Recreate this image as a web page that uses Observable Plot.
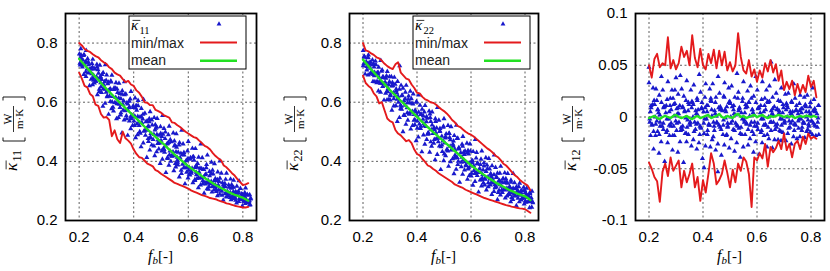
<!DOCTYPE html>
<html><head><meta charset="utf-8">
<script src="https://cdn.jsdelivr.net/npm/d3@7"></script>
<script src="https://cdn.jsdelivr.net/npm/@observablehq/plot@0.6"></script>
<style>
body{margin:0;background:#fff;}
#wrap{position:relative;width:830px;height:271px;overflow:hidden;background:#fff;}
#wrap svg{position:absolute;top:0;}
</style></head><body><div id="wrap"></div>
<script>
// ---------- data ----------
const fb = [0.20,0.21,0.22,0.23,0.24,0.25,0.26,0.27,0.28,0.29,0.30,0.31,0.32,0.33,0.34,0.35,0.36,0.37,0.38,0.39,0.40,0.41,0.42,0.43,0.44,0.45,0.46,0.47,0.48,0.49,0.50,0.51,0.52,0.53,0.54,0.55,0.56,0.57,0.58,0.59,0.60,0.61,0.62,0.63,0.64,0.65,0.66,0.67,0.68,0.69,0.70,0.71,0.72,0.73,0.74,0.75,0.76,0.77,0.78,0.79,0.80,0.81,0.82];
const xTicks = [0.2,0.4,0.6,0.8];

const k11Max = [.800,.792,.780,.774,.770,.762,.756,.752,.742,.735,.730,.718,.712,.700,.694,.690,.678,.668,.672,.660,.655,.640,.632,.618,.600,.598,.590,.590,.574,.570,.565,.556,.552,.548,.532,.530,.522,.516,.508,.500,.494,.488,.482,.479,.470,.462,.452,.448,.440,.428,.418,.410,.404,.386,.380,.370,.360,.352,.340,.330,.320,.322,.326];
const k11Min = [.700,.680,.655,.650,.628,.620,.592,.588,.560,.548,.550,.540,.485,.505,.475,.462,.500,.478,.470,.460,.440,.425,.414,.412,.402,.392,.388,.383,.370,.366,.358,.352,.346,.340,.334,.327,.324,.320,.316,.312,.308,.302,.298,.294,.290,.286,.283,.280,.276,.274,.272,.268,.265,.262,.258,.256,.253,.250,.248,.246,.244,.244,.246];
const k11Mean = [.747,.736,.726,.715,.705,.695,.686,.675,.665,.655,.645,.636,.626,.616,.607,.598,.589,.580,.571,.562,.553,.545,.535,.526,.517,.508,.500,.491,.483,.474,.466,.458,.449,.440,.432,.423,.415,.407,.399,.391,.384,.377,.370,.364,.357,.350,.344,.338,.332,.326,.320,.315,.310,.305,.300,.295,.291,.287,.284,.280,.277,.272,.267];

const k22Max = [.800,.775,.772,.765,.760,.752,.748,.740,.730,.722,.716,.712,.728,.735,.700,.690,.680,.676,.660,.648,.632,.630,.618,.610,.606,.600,.598,.592,.584,.576,.570,.562,.552,.540,.532,.520,.516,.508,.500,.494,.490,.484,.476,.468,.460,.452,.444,.438,.430,.420,.414,.404,.392,.386,.376,.365,.355,.348,.338,.330,.324,.318,.302];
const k22Min = [.690,.665,.655,.648,.630,.620,.596,.600,.572,.545,.536,.532,.506,.494,.488,.478,.468,.472,.462,.440,.425,.420,.408,.398,.386,.382,.374,.368,.360,.354,.348,.342,.336,.330,.322,.318,.314,.310,.304,.300,.296,.292,.288,.284,.280,.276,.273,.270,.267,.264,.261,.258,.255,.252,.250,.247,.245,.243,.241,.240,.238,.232,.226];
const k22Mean = [.744,.733,.722,.711,.701,.691,.681,.671,.661,.651,.641,.632,.623,.614,.605,.596,.587,.578,.569,.560,.551,.542,.533,.524,.516,.507,.499,.491,.483,.475,.467,.459,.451,.443,.435,.427,.419,.411,.403,.395,.387,.380,.373,.366,.359,.353,.347,.341,.335,.329,.324,.319,.314,.309,.304,.300,.296,.292,.288,.285,.282,.276,.269];

const k12Max = [.050,.038,.056,.061,.048,.052,.050,.077,.047,.055,.046,.052,.068,.058,.064,.050,.079,.057,.048,.066,.050,.046,.061,.052,.065,.047,.064,.050,.063,.045,.053,.044,.050,.081,.058,.045,.042,.055,.039,.046,.034,.045,.038,.052,.044,.055,.043,.051,.035,.045,.026,.034,.027,.035,.021,.032,.023,.031,.024,.040,.029,.035,.019];
const k12Min = [-.044,-.050,-.058,-.062,-.082,-.053,-.045,-.057,-.039,-.052,-.047,-.042,-.068,-.052,-.063,-.055,-.045,-.068,-.058,-.081,-.061,-.073,-.055,-.035,-.045,-.065,-.061,-.055,-.042,-.054,-.068,-.051,-.063,-.045,-.052,-.039,-.043,-.055,-.087,-.039,-.042,-.035,-.040,-.026,-.048,-.029,-.034,-.030,-.023,-.031,-.016,-.032,-.026,-.039,-.026,-.023,-.031,-.019,-.026,-.016,-.021,-.019,-.021];
const k12Mean = [-.001,.000,.001,-.001,-.002,.000,.001,.000,-.001,.001,.002,.000,-.001,.000,.001,-.001,-.002,.000,.001,-.001,.000,.001,.002,-.001,.000,.001,.003,.000,-.001,.001,.000,-.001,.002,.003,.000,.001,-.001,.000,.001,.002,.000,.001,.002,.000,-.001,.001,.000,.001,.002,.001,.000,.001,.000,.001,-.001,.000,.001,.000,.001,.001,.000,.001,.000];

const k11Pts = [[.201,.763],[.204,.726],[.206,.781],[.209,.742],[.205,.751],[.212,.719],[.213,.744],[.217,.694],[.218,.761],[.210,.729],[.220,.729],[.225,.687],[.226,.775],[.229,.712],[.223,.736],[.231,.747],[.233,.699],[.235,.727],[.238,.656],[.237,.712],[.242,.712],[.244,.678],[.247,.731],[.249,.659],[.245,.713],[.250,.745],[.253,.691],[.256,.665],[.258,.712],[.251,.681],[.261,.671],[.265,.728],[.267,.625],[.269,.710],[.264,.685],[.271,.698],[.274,.636],[.276,.725],[.279,.666],[.275,.681],[.282,.633],[.283,.677],[.287,.586],[.288,.700],[.280,.652],[.290,.659],[.295,.596],[.296,.727],[.299,.634],[.293,.669],[.301,.692],[.303,.621],[.305,.662],[.308,.559],[.307,.640],[.312,.643],[.314,.602],[.317,.668],[.319,.578],[.315,.645],[.320,.691],[.323,.619],[.326,.570],[.328,.648],[.321,.601],[.331,.599],[.335,.666],[.337,.544],[.339,.645],[.334,.616],[.341,.633],[.344,.548],[.346,.664],[.349,.594],[.345,.614],[.352,.557],[.353,.612],[.357,.496],[.358,.639],[.350,.582],[.360,.593],[.365,.540],[.366,.669],[.369,.571],[.363,.605],[.371,.628],[.373,.554],[.375,.598],[.378,.488],[.377,.575],[.382,.581],[.384,.536],[.387,.611],[.389,.510],[.385,.583],[.390,.636],[.393,.557],[.396,.521],[.398,.587],[.391,.544],[.401,.536],[.405,.614],[.407,.480],[.409,.589],[.404,.553],[.411,.573],[.414,.490],[.416,.606],[.419,.532],[.415,.552],[.422,.500],[.423,.550],[.427,.449],[.428,.579],[.420,.521],[.430,.531],[.435,.462],[.436,.609],[.439,.503],[.433,.543],[.441,.563],[.443,.488],[.445,.534],[.448,.413],[.447,.511],[.452,.517],[.454,.467],[.457,.544],[.459,.438],[.455,.519],[.460,.568],[.463,.494],[.466,.455],[.468,.523],[.461,.480],[.471,.474],[.475,.548],[.477,.419],[.479,.524],[.474,.491],[.481,.512],[.484,.432],[.486,.545],[.489,.472],[.485,.491],[.492,.442],[.493,.488],[.497,.393],[.498,.517],[.490,.461],[.500,.471],[.505,.407],[.506,.555],[.509,.444],[.503,.484],[.511,.511],[.513,.431],[.515,.477],[.518,.362],[.517,.452],[.522,.459],[.524,.413],[.527,.490],[.529,.387],[.525,.461],[.530,.519],[.533,.435],[.536,.400],[.538,.466],[.531,.422],[.541,.417],[.545,.496],[.547,.368],[.549,.469],[.544,.432],[.551,.455],[.554,.381],[.556,.493],[.559,.414],[.555,.432],[.562,.388],[.563,.431],[.567,.347],[.568,.463],[.560,.404],[.570,.412],[.575,.359],[.576,.505],[.579,.390],[.573,.427],[.581,.459],[.583,.378],[.585,.421],[.588,.324],[.587,.395],[.592,.402],[.594,.363],[.597,.435],[.599,.344],[.595,.404],[.600,.467],[.603,.380],[.606,.354],[.608,.412],[.601,.370],[.611,.366],[.615,.444],[.617,.328],[.619,.416],[.614,.377],[.621,.404],[.624,.338],[.626,.443],[.629,.363],[.625,.379],[.632,.342],[.633,.380],[.637,.311],[.638,.414],[.630,.355],[.640,.363],[.645,.320],[.646,.459],[.649,.344],[.643,.377],[.651,.412],[.653,.334],[.655,.372],[.658,.292],[.657,.347],[.662,.355],[.664,.323],[.667,.389],[.669,.307],[.665,.357],[.670,.421],[.673,.335],[.676,.315],[.678,.366],[.671,.328],[.681,.324],[.685,.397],[.687,.296],[.689,.370],[.684,.332],[.691,.357],[.694,.303],[.696,.392],[.699,.321],[.695,.334],[.702,.306],[.703,.335],[.707,.284],[.708,.364],[.700,.314],[.710,.320],[.715,.289],[.716,.401],[.719,.306],[.713,.332],[.721,.360],[.723,.299],[.725,.328],[.728,.269],[.727,.308],[.732,.314],[.734,.290],[.737,.339],[.739,.279],[.735,.315],[.740,.360],[.743,.298],[.746,.283],[.748,.320],[.741,.292],[.751,.289],[.755,.340],[.757,.270],[.759,.321],[.754,.295],[.761,.312],[.764,.274],[.766,.336],[.769,.287],[.765,.297],[.772,.276],[.773,.297],[.777,.259],[.778,.316],[.770,.283],[.780,.287],[.785,.264],[.786,.334],[.789,.277],[.783,.294],[.791,.308],[.793,.271],[.795,.290],[.798,.249],[.797,.278],[.802,.281],[.804,.265],[.807,.294],[.809,.257],[.805,.282],[.810,.310],[.813,.271],[.816,.261],[.818,.285],[.811,.267],[.821,.264],[.825,.287],[.827,.253],[.829,.275],[.824,.267]];
const k11Core = [[.207,.760],[.203,.732],[.216,.758],[.211,.726],[.228,.735],[.224,.702],[.234,.735],[.238,.701],[.249,.719],[.246,.696],[.257,.713],[.253,.674],[.266,.719],[.261,.671],[.278,.687],[.274,.644],[.284,.694],[.288,.645],[.299,.674],[.296,.644],[.307,.668],[.303,.618],[.316,.672],[.311,.620],[.328,.643],[.324,.583],[.334,.647],[.338,.595],[.349,.629],[.346,.594],[.357,.627],[.353,.564],[.366,.625],[.361,.573],[.378,.594],[.374,.544],[.384,.603],[.388,.549],[.399,.582],[.396,.550],[.407,.580],[.403,.521],[.416,.588],[.411,.526],[.428,.551],[.424,.495],[.434,.559],[.438,.503],[.449,.537],[.446,.505],[.457,.534],[.453,.477],[.466,.540],[.461,.482],[.478,.506],[.474,.452],[.484,.516],[.488,.460],[.499,.494],[.496,.462],[.507,.492],[.503,.435],[.516,.499],[.511,.440],[.528,.464],[.524,.410],[.534,.473],[.538,.418],[.549,.452],[.546,.420],[.557,.448],[.553,.393],[.566,.455],[.561,.397],[.578,.422],[.574,.370],[.584,.430],[.588,.378],[.599,.410],[.596,.380],[.607,.407],[.603,.356],[.616,.414],[.611,.360],[.628,.384],[.624,.335],[.634,.393],[.638,.344],[.649,.375],[.646,.346],[.657,.372],[.653,.324],[.666,.378],[.661,.329],[.678,.351],[.674,.306],[.684,.358],[.688,.314],[.699,.341],[.696,.317],[.707,.338],[.703,.298],[.716,.343],[.711,.302],[.728,.320],[.724,.285],[.734,.325],[.738,.291],[.749,.312],[.746,.293],[.757,.309],[.753,.278],[.766,.312],[.761,.281],[.778,.295],[.774,.268],[.784,.299],[.788,.274],[.799,.288],[.796,.275],[.807,.287],[.803,.266],[.816,.288],[.811,.265],[.828,.273],[.824,.252]];

const k22Pts = [[.201,.775],[.203,.730],[.205,.755],[.208,.695],[.204,.754],[.212,.737],[.214,.709],[.217,.750],[.219,.692],[.216,.730],[.220,.760],[.223,.719],[.226,.695],[.228,.735],[.225,.728],[.231,.702],[.235,.743],[.237,.670],[.239,.730],[.232,.700],[.241,.719],[.244,.669],[.246,.739],[.249,.694],[.243,.701],[.252,.670],[.253,.700],[.257,.638],[.258,.718],[.255,.696],[.260,.684],[.265,.634],[.266,.741],[.269,.664],[.261,.671],[.271,.709],[.273,.653],[.275,.685],[.278,.607],[.274,.683],[.282,.668],[.284,.630],[.287,.689],[.289,.608],[.286,.657],[.290,.704],[.293,.646],[.296,.609],[.298,.669],[.295,.660],[.301,.625],[.305,.686],[.307,.573],[.309,.667],[.302,.622],[.311,.656],[.314,.587],[.316,.684],[.319,.622],[.313,.632],[.322,.588],[.323,.639],[.327,.535],[.328,.670],[.325,.631],[.330,.620],[.335,.548],[.336,.723],[.339,.590],[.331,.600],[.341,.657],[.343,.576],[.345,.624],[.348,.500],[.344,.622],[.352,.605],[.354,.555],[.357,.634],[.359,.525],[.356,.590],[.360,.657],[.363,.581],[.366,.539],[.368,.610],[.365,.598],[.371,.562],[.375,.637],[.377,.509],[.379,.612],[.372,.559],[.381,.596],[.384,.521],[.386,.628],[.389,.558],[.383,.569],[.392,.524],[.393,.573],[.397,.470],[.398,.600],[.395,.567],[.400,.555],[.405,.482],[.406,.624],[.409,.526],[.401,.536],[.411,.590],[.413,.511],[.415,.560],[.418,.432],[.414,.558],[.422,.542],[.424,.489],[.427,.567],[.429,.458],[.426,.527],[.430,.589],[.433,.518],[.436,.474],[.438,.546],[.435,.534],[.441,.496],[.445,.570],[.447,.431],[.449,.548],[.442,.493],[.451,.535],[.454,.451],[.456,.567],[.459,.494],[.453,.507],[.462,.461],[.463,.514],[.467,.405],[.468,.544],[.465,.507],[.470,.496],[.475,.423],[.476,.582],[.479,.466],[.471,.476],[.481,.539],[.483,.452],[.485,.503],[.488,.372],[.484,.501],[.492,.485],[.494,.433],[.497,.515],[.499,.402],[.496,.469],[.500,.544],[.503,.462],[.506,.419],[.508,.493],[.505,.479],[.511,.441],[.515,.521],[.517,.383],[.519,.495],[.512,.438],[.521,.481],[.524,.399],[.526,.517],[.529,.439],[.523,.451],[.532,.409],[.533,.458],[.537,.358],[.538,.487],[.535,.451],[.540,.440],[.545,.373],[.546,.522],[.549,.412],[.541,.421],[.551,.478],[.553,.400],[.555,.446],[.558,.329],[.554,.444],[.562,.429],[.564,.382],[.567,.458],[.569,.356],[.566,.414],[.570,.484],[.573,.406],[.576,.371],[.578,.435],[.575,.423],[.581,.388],[.585,.461],[.587,.339],[.589,.437],[.582,.385],[.591,.425],[.594,.352],[.596,.459],[.599,.385],[.593,.395],[.602,.360],[.603,.402],[.607,.319],[.608,.433],[.605,.395],[.610,.385],[.615,.332],[.616,.474],[.619,.362],[.611,.369],[.621,.430],[.623,.352],[.625,.394],[.628,.296],[.624,.392],[.632,.376],[.634,.337],[.637,.407],[.639,.317],[.636,.362],[.640,.435],[.643,.355],[.646,.327],[.648,.384],[.645,.371],[.651,.341],[.655,.412],[.657,.303],[.659,.388],[.652,.339],[.661,.376],[.664,.314],[.666,.410],[.669,.340],[.663,.347],[.672,.320],[.673,.356],[.677,.288],[.678,.385],[.675,.349],[.680,.340],[.685,.298],[.686,.421],[.689,.321],[.681,.327],[.691,.379],[.693,.313],[.695,.347],[.698,.270],[.694,.345],[.702,.333],[.704,.302],[.707,.360],[.709,.286],[.706,.321],[.710,.383],[.713,.316],[.716,.295],[.718,.340],[.715,.329],[.721,.305],[.725,.361],[.727,.276],[.729,.341],[.722,.303],[.731,.332],[.734,.283],[.736,.359],[.739,.303],[.733,.309],[.742,.288],[.743,.315],[.747,.263],[.748,.336],[.745,.310],[.750,.303],[.755,.271],[.756,.359],[.759,.289],[.751,.294],[.761,.328],[.763,.283],[.765,.308],[.768,.250],[.764,.307],[.772,.298],[.774,.275],[.777,.314],[.779,.263],[.776,.290],[.780,.326],[.783,.286],[.786,.269],[.788,.301],[.785,.294],[.791,.278],[.795,.312],[.797,.256],[.799,.301],[.792,.277],[.801,.295],[.804,.262],[.806,.309],[.809,.278],[.803,.282],[.812,.263],[.813,.282],[.817,.243],[.818,.295],[.815,.279],[.820,.271],[.825,.245],[.826,.299],[.829,.260],[.821,.264]];
const k22Core = [[.206,.752],[.201,.723],[.219,.751],[.214,.721],[.223,.734],[.227,.715],[.235,.726],[.239,.694],[.248,.727],[.242,.689],[.256,.701],[.251,.666],[.269,.705],[.264,.664],[.273,.685],[.277,.663],[.285,.681],[.289,.637],[.298,.686],[.292,.635],[.306,.655],[.301,.607],[.319,.661],[.314,.612],[.323,.645],[.327,.610],[.335,.644],[.339,.578],[.348,.647],[.342,.586],[.356,.612],[.351,.556],[.369,.621],[.364,.564],[.373,.598],[.377,.566],[.385,.594],[.389,.539],[.398,.602],[.392,.541],[.406,.566],[.401,.512],[.419,.576],[.414,.519],[.423,.554],[.427,.520],[.435,.551],[.439,.492],[.448,.560],[.442,.496],[.456,.523],[.451,.466],[.469,.535],[.464,.474],[.473,.513],[.477,.478],[.485,.511],[.489,.449],[.498,.519],[.492,.455],[.506,.484],[.501,.425],[.519,.494],[.514,.435],[.523,.473],[.527,.438],[.535,.469],[.539,.411],[.548,.477],[.542,.416],[.556,.442],[.551,.389],[.569,.451],[.564,.397],[.573,.431],[.577,.399],[.585,.428],[.589,.374],[.598,.434],[.592,.378],[.606,.402],[.601,.350],[.619,.411],[.614,.359],[.623,.392],[.627,.362],[.635,.389],[.639,.338],[.648,.395],[.642,.343],[.656,.366],[.651,.320],[.669,.374],[.664,.328],[.673,.358],[.677,.331],[.685,.355],[.689,.311],[.698,.360],[.692,.315],[.706,.335],[.701,.295],[.719,.342],[.714,.303],[.723,.328],[.727,.306],[.735,.326],[.739,.289],[.748,.329],[.742,.293],[.756,.309],[.751,.278],[.769,.314],[.764,.284],[.773,.302],[.777,.286],[.785,.300],[.789,.274],[.798,.303],[.792,.277],[.806,.288],[.801,.266],[.819,.290],[.814,.267],[.823,.277],[.827,.264]];

const k12Pts = [[.200,.033],[.203,-.002],[.206,-.018],[.208,.011],[.205,.005],[.211,-.007],[.215,.028],[.217,-.031],[.219,.016],[.212,-.008],[.221,.012],[.224,-.018],[.226,.027],[.229,-.004],[.223,.000],[.232,-.014],[.233,.007],[.237,-.035],[.238,.021],[.235,.004],[.240,.002],[.245,-.024],[.246,.039],[.249,-.009],[.241,-.005],[.251,.026],[.253,-.012],[.255,.010],[.258,-.043],[.254,.009],[.262,.004],[.264,-.015],[.267,.017],[.269,-.025],[.266,-.002],[.270,.034],[.273,-.002],[.276,-.018],[.278,.011],[.275,.005],[.281,-.009],[.285,.026],[.287,-.032],[.289,.018],[.282,-.006],[.291,.012],[.294,-.018],[.296,.026],[.299,-.004],[.293,.001],[.302,-.013],[.303,.008],[.307,-.034],[.308,.022],[.305,.003],[.310,.003],[.315,-.024],[.316,.040],[.319,-.010],[.311,-.005],[.321,.027],[.323,-.012],[.325,.010],[.328,-.044],[.324,.009],[.332,.005],[.334,-.016],[.337,.016],[.339,-.024],[.336,-.001],[.340,.035],[.343,-.003],[.346,-.017],[.348,.012],[.345,.006],[.351,-.006],[.355,.026],[.357,-.028],[.359,.015],[.352,-.008],[.361,.014],[.364,-.022],[.366,.031],[.369,-.005],[.363,.000],[.372,-.012],[.373,.006],[.377,-.031],[.378,.018],[.375,.003],[.380,.002],[.385,-.025],[.386,.041],[.389,-.009],[.381,-.006],[.391,.024],[.393,-.011],[.395,.009],[.398,-.040],[.394,.008],[.402,.005],[.404,-.016],[.407,.019],[.409,-.028],[.406,-.002],[.410,.032],[.413,-.002],[.416,-.017],[.418,.011],[.415,.005],[.421,-.007],[.425,.027],[.427,-.029],[.429,.016],[.422,-.008],[.431,.015],[.434,-.022],[.436,.032],[.439,-.005],[.433,.001],[.442,-.013],[.443,.006],[.447,-.032],[.448,.019],[.445,.003],[.450,.001],[.455,-.026],[.456,.039],[.459,-.008],[.451,-.005],[.461,.023],[.463,-.010],[.465,.008],[.468,-.037],[.464,.007],[.472,.006],[.474,-.017],[.477,.020],[.479,-.027],[.476,-.003],[.480,.033],[.483,-.001],[.486,-.018],[.488,.010],[.485,.005],[.491,-.006],[.495,.028],[.497,-.030],[.499,.015],[.492,-.009],[.501,.013],[.504,-.021],[.506,.030],[.509,-.004],[.503,.000],[.512,-.012],[.513,.007],[.517,-.033],[.518,.019],[.515,.003],[.520,.002],[.525,-.025],[.526,.042],[.529,-.009],[.521,-.006],[.531,.024],[.533,-.011],[.535,.009],[.538,-.039],[.534,.008],[.542,.004],[.544,-.017],[.547,.018],[.549,-.029],[.546,-.002],[.550,.034],[.553,-.003],[.556,-.017],[.558,.012],[.555,.004],[.561,-.006],[.565,.025],[.567,-.027],[.569,.014],[.562,-.007],[.571,.014],[.574,-.021],[.576,.030],[.579,-.005],[.573,.001],[.582,-.014],[.583,.007],[.587,-.034],[.588,.020],[.585,.004],[.590,.002],[.595,-.024],[.596,.039],[.599,-.009],[.591,-.005],[.601,.026],[.603,-.012],[.605,.009],[.608,-.036],[.604,.008],[.612,.004],[.614,-.015],[.617,.017],[.619,-.025],[.616,-.002],[.620,.034],[.623,-.002],[.626,-.018],[.628,.011],[.625,.005],[.631,-.007],[.635,.026],[.637,-.029],[.639,.015],[.632,-.008],[.641,.014],[.644,-.021],[.646,.030],[.649,-.005],[.643,.000],[.652,-.013],[.653,.006],[.657,-.030],[.658,.019],[.655,.003],[.660,.002],[.665,-.022],[.666,.036],[.669,-.008],[.661,-.005],[.671,.023],[.673,-.010],[.675,.008],[.678,-.022],[.674,.007],[.682,.004],[.684,-.013],[.687,.015],[.689,-.023],[.686,-.002],[.690,.028],[.693,-.002],[.696,-.015],[.698,.009],[.695,.004],[.701,-.005],[.705,.022],[.707,-.023],[.709,.013],[.702,-.006],[.711,.011],[.714,-.016],[.716,.023],[.719,-.004],[.713,.000],[.722,-.010],[.723,.005],[.727,-.026],[.728,.015],[.725,.003],[.730,.002],[.735,-.019],[.736,.032],[.739,-.007],[.731,-.004],[.741,.018],[.743,-.008],[.745,.007],[.748,-.021],[.744,.006],[.752,.003],[.754,-.011],[.757,.013],[.759,-.019],[.756,-.002],[.760,.021],[.763,-.002],[.766,-.013],[.768,.008],[.765,.004],[.771,-.005],[.775,.019],[.777,-.020],[.779,.011],[.772,-.006],[.781,.010],[.784,-.014],[.786,.021],[.789,-.003],[.783,.000],[.792,-.009],[.793,.005],[.797,-.015],[.798,.014],[.795,.002],[.800,.002],[.805,-.017],[.806,.028],[.809,-.006],[.801,-.004],[.811,.017],[.813,-.008],[.815,.006],[.818,-.018],[.814,.005],[.822,.003],[.824,-.010],[.827,.011],[.829,-.017],[.826,-.001],[.200,.048],[.404,-.049],[.652,.053],[.455,-.053],[.300,.038]];
const k12Core = [[.208,.009],[.203,-.005],[.214,.012],[.217,-.014],[.229,.016],[.225,-.007],[.232,.007],[.238,-.017],[.246,.014],[.241,-.009],[.258,.010],[.253,-.006],[.264,.011],[.267,-.013],[.279,.018],[.275,-.008],[.282,.007],[.288,-.018],[.296,.013],[.291,-.009],[.308,.009],[.303,-.006],[.314,.011],[.317,-.013],[.329,.020],[.325,-.009],[.332,.006],[.338,-.016],[.346,.014],[.341,-.010],[.358,.009],[.353,-.005],[.364,.012],[.367,-.014],[.379,.016],[.375,-.007],[.382,.007],[.388,-.017],[.396,.014],[.391,-.010],[.408,.009],[.403,-.006],[.414,.011],[.417,-.013],[.429,.018],[.425,-.008],[.432,.007],[.438,-.019],[.446,.014],[.441,-.009],[.458,.009],[.453,-.006],[.464,.010],[.467,-.012],[.479,.019],[.475,-.008],[.482,.007],[.488,-.017],[.496,.014],[.491,-.010],[.508,.010],[.503,-.006],[.514,.011],[.517,-.013],[.529,.018],[.525,-.008],[.532,.006],[.538,-.016],[.546,.015],[.541,-.010],[.558,.009],[.553,-.005],[.564,.010],[.567,-.012],[.579,.018],[.575,-.008],[.582,.007],[.588,-.017],[.596,.014],[.591,-.009],[.608,.009],[.603,-.006],[.614,.011],[.617,-.013],[.629,.018],[.625,-.008],[.632,.007],[.638,-.017],[.646,.015],[.641,-.010],[.658,.008],[.653,-.005],[.664,.010],[.667,-.012],[.679,.016],[.675,-.007],[.682,.006],[.688,-.014],[.696,.012],[.691,-.008],[.708,.007],[.703,-.004],[.714,.009],[.717,-.011],[.729,.014],[.725,-.006],[.732,.005],[.738,-.013],[.746,.011],[.741,-.007],[.758,.006],[.753,-.004],[.764,.008],[.767,-.010],[.779,.012],[.775,-.006],[.782,.005],[.788,-.012],[.796,.010],[.791,-.007],[.808,.006],[.803,-.004],[.814,.008],[.817,-.009],[.829,.011],[.825,-.005]];

// ---------- style ----------
const RED = "#e41a1c", GREEN = "#22e022", BLUE = "#1818cc";
const SERIF = "'Liberation Serif','DejaVu Serif',serif";
const SANS = "'Liberation Sans',Arial,sans-serif";

function kappa(g, x, y, fs, sub) {
  g.append("text").attr("x", x).attr("y", y).attr("text-anchor", "start").attr("font-family", SERIF)
    .attr("font-style", "italic").attr("font-size", fs).attr("fill", "#000").text("κ");
  g.append("line").attr("x1", x + 0.1 * fs).attr("x2", x + 0.62 * fs)
    .attr("y1", y - 0.64 * fs).attr("y2", y - 0.64 * fs)
    .attr("stroke", "#000").attr("stroke-width", 0.8);
  g.append("text").attr("x", x + 0.56 * fs).attr("y", y + 0.25 * fs).attr("text-anchor", "start").attr("font-family", SERIF)
    .attr("font-size", 0.7 * fs).attr("fill", "#000").text(sub);
}

function yLabel(svg, X0, Yc, sub) {
  const g = d3.select(svg).append("g").attr("transform", `translate(${X0},${Yc}) rotate(-90)`);
  const u0 = -37;
  kappa(g, u0, 0, 17, sub);
  const ub = u0 + 30, uc = u0 + 52, ue = u0 + 74;
  g.append("path").attr("d", `M${ub + 3.5},-14H${ub}V8H${ub + 3.5}`).attr("fill", "none").attr("stroke", "#000").attr("stroke-width", 0.9);
  g.append("path").attr("d", `M${ue - 3.5},-14H${ue}V8H${ue - 3.5}`).attr("fill", "none").attr("stroke", "#000").attr("stroke-width", 0.9);
  g.append("line").attr("x1", uc - 13).attr("x2", uc + 13).attr("y1", -3.5).attr("y2", -3.5).attr("stroke", "#000").attr("stroke-width", 0.8);
  g.append("text").attr("x", uc).attr("y", -5.5).attr("text-anchor", "middle").attr("font-family", SERIF).attr("font-size", 11.5).attr("fill", "#000").text("W");
  g.append("text").attr("x", uc).attr("y", 5.5).attr("text-anchor", "middle").attr("font-family", SERIF).attr("font-size", 11).attr("fill", "#000").text("m·K");
}

function xLabel(svg, cx, y) {
  const t = d3.select(svg).append("text").attr("x", cx).attr("y", y).attr("text-anchor", "middle")
    .attr("font-family", SERIF).attr("font-size", 16).attr("fill", "#000");
  t.append("tspan").attr("font-style", "italic").text("f");
  t.append("tspan").attr("font-style", "italic").attr("font-size", 11).attr("dy", 3).text("b");
  t.append("tspan").attr("dy", -3).attr("font-size", 15).text("[-]");
}

function legend(svg, mL, sub) {
  const g = d3.select(svg).append("g");
  g.append("rect").attr("x", mL + 64).attr("y", 16).attr("width", 117).attr("height", 53)
    .attr("fill", "#fff").attr("stroke", "#000").attr("stroke-width", 1);
  kappa(g, mL + 66, 30, 15, sub);
  g.append("text").attr("x", mL + 66).attr("y", 47.5).attr("text-anchor", "start").attr("font-family", SANS).attr("font-size", 14).attr("fill", "#222").text("min/max");
  g.append("text").attr("x", mL + 66).attr("y", 65).attr("text-anchor", "start").attr("font-family", SANS).attr("font-size", 14).attr("fill", "#222").text("mean");
  g.append("path").attr("d", d3.symbol(d3.symbolTriangle, 10)()).attr("transform", `translate(${mL + 154},24)`).attr("fill", BLUE);
  g.append("line").attr("x1", mL + 135).attr("x2", mL + 172).attr("y1", 42.5).attr("y2", 42.5).attr("stroke", RED).attr("stroke-width", 2);
  g.append("line").attr("x1", mL + 135).attr("x2", mL + 172).attr("y1", 60.7).attr("y2", 60.7).attr("stroke", GREEN).attr("stroke-width", 2.4);
}

function panel(o) {
  const rows = fb.map((x, i) => ({x, hi: o.hi[i], lo: o.lo[i], m: o.mean[i]}));
  const gridStyle = {stroke: "#333", strokeOpacity: 1, strokeWidth: 0.8, strokeDasharray: "2,2.5"};
  const svg = Plot.plot({
    width: o.width, height: 271,
    marginLeft: o.mL, marginRight: o.mR, marginTop: 13, marginBottom: 51,
    x: {domain: [0.15, 0.85]},
    y: {domain: o.yDomain},
    style: {fontFamily: SANS, fontSize: "15px", background: "transparent", overflow: "visible", color: "#000"},
    marks: [
      Plot.gridX(xTicks, gridStyle),
      Plot.gridY(o.yGrid, gridStyle),
      Plot.dot(o.pts.concat(o.core), {x: d => d[0], y: d => d[1], symbol: "triangle", r: 1.9, fill: BLUE, stroke: "none"}),
      Plot.line(rows, {x: "x", y: "hi", stroke: RED, strokeWidth: 1.9}),
      Plot.line(rows, {x: "x", y: "lo", stroke: RED, strokeWidth: 1.9}),
      Plot.line(rows, {x: "x", y: "m", stroke: GREEN, strokeWidth: 2.4}),
      Plot.frame({stroke: "#000", strokeWidth: 1.8}),
      Plot.axisX(xTicks, {tickSize: 0, tickPadding: 11, fontSize: 15, label: null, tickFormat: d => String(d)}),
      Plot.axisY(o.yTicks, {tickSize: 0, tickPadding: 8, fontSize: 15, label: null, tickFormat: d => String(d)})
    ]
  });
  svg.style.left = o.left + "px";
  const fL = o.mL, fR = o.width - o.mR;
  xLabel(svg, (fL + fR) / 2, 261);
  yLabel(svg, o.labX, 134, o.sub);
  if (o.legend) legend(svg, o.mL, o.sub);
  document.getElementById("wrap").appendChild(svg);
}

panel({left: 0, width: 277, mL: 65, mR: 21, yDomain: [0.2, 0.9], yTicks: [0.2, 0.4, 0.6, 0.8], yGrid: [0.4, 0.6, 0.8],
  pts: k11Pts, core: k11Core, hi: k11Max, lo: k11Min, mean: k11Mean, sub: "11", labX: 17, legend: true});
panel({left: 277, width: 277, mL: 72, mR: 16, yDomain: [0.2, 0.9], yTicks: [0.2, 0.4, 0.6, 0.8], yGrid: [0.4, 0.6, 0.8],
  pts: k22Pts, core: k22Core, hi: k22Max, lo: k22Min, mean: k22Mean, sub: "22", labX: 21, legend: true});
panel({left: 554, width: 276, mL: 81, mR: 6, yDomain: [-0.1, 0.1], yTicks: [-0.1, -0.05, 0, 0.05, 0.1], yGrid: [-0.05, 0, 0.05],
  pts: k12Pts, core: k12Core, hi: k12Max, lo: k12Min, mean: k12Mean, sub: "12", labX: 22, legend: false});
</script>
</body></html>
